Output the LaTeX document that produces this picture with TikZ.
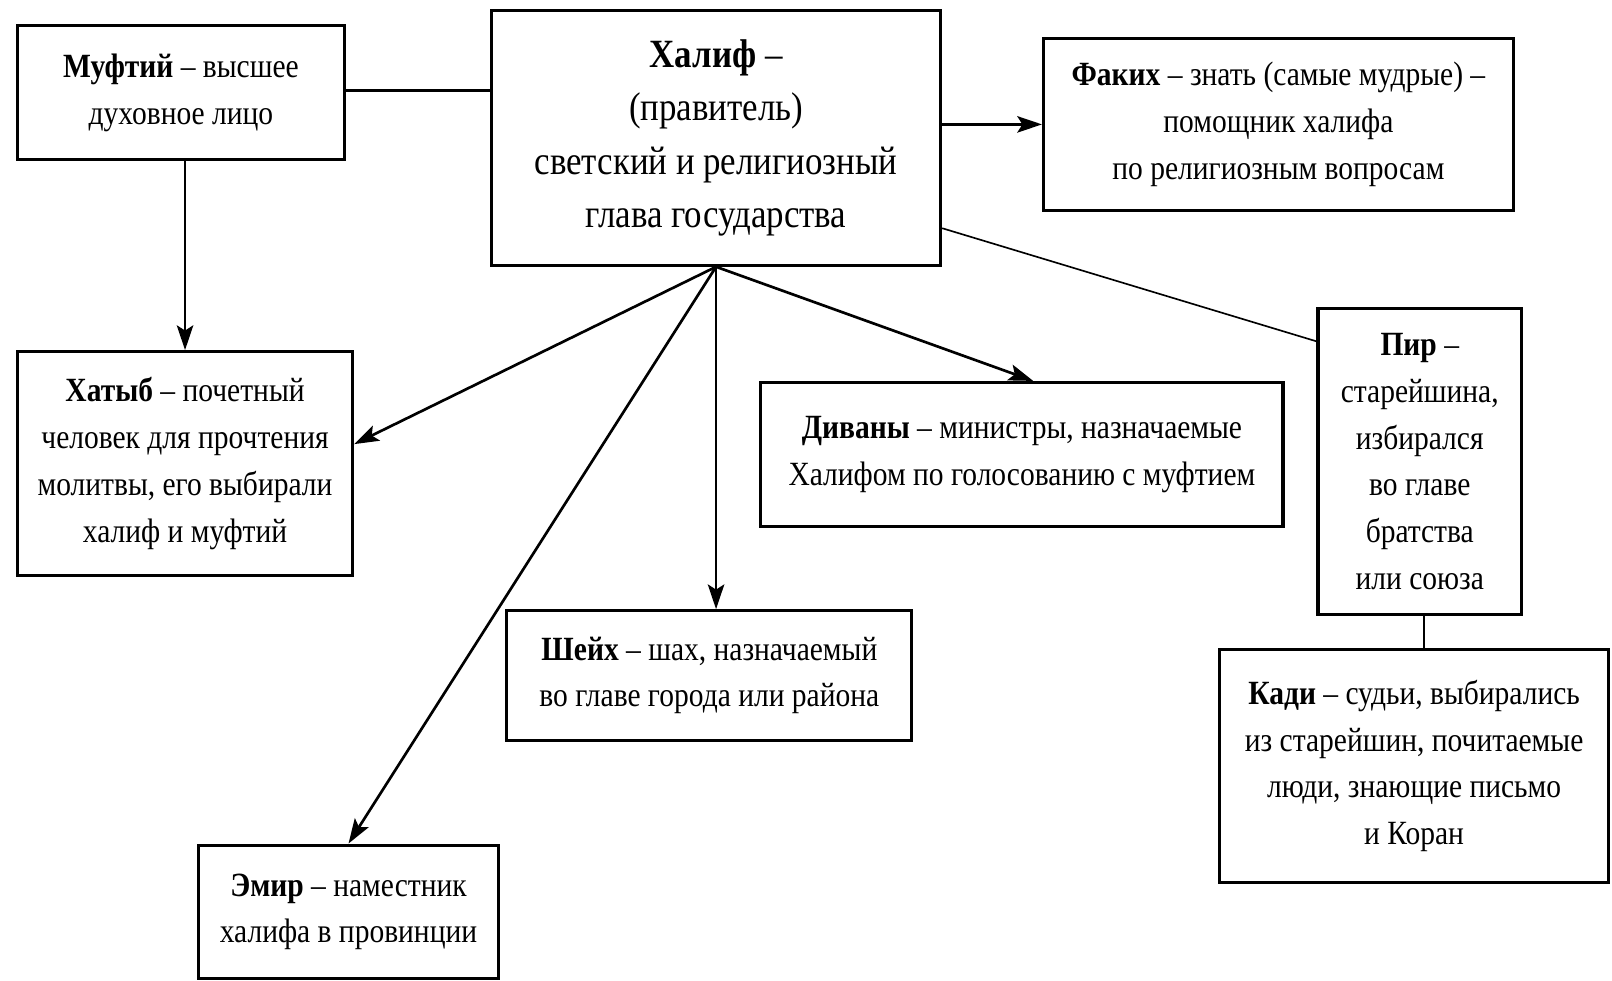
\documentclass[tikz,border=0pt]{standalone}
\usepackage{fontspec}
\setmainfont{Liberation Serif}[FakeStretch=0.87]
\usetikzlibrary{arrows.meta}
\tikzset{
  box/.style={draw=black, line width=3pt, align=center, inner sep=0pt,
    font=\fontsize{33}{45.5}\selectfont},
  arr/.style={line width=2.6pt, -{Stealth[length=24pt,width=16pt,inset=5pt]}},
  ln/.style={line width=2.6pt},
  thin/.style={line width=1.6pt}
}
\begin{document}
\begin{tikzpicture}[x=1pt,y=-1pt]
\useasboundingbox (0,0) rectangle (1568,954);
\node[box, minimum width=318pt, minimum height=130pt] (muf) at (176,90)
  {\textbf{Муфтий} – высшее\\ духовное лицо};
\node[box, minimum width=437pt, minimum height=248pt,
  font=\fontsize{39}{52}\selectfont] (hal) at (696.5,134)
  {\textbf{Халиф} –\\ (правитель)\\ светский и религиозный\\ глава государства};
\node[box, minimum width=457pt, minimum height=168pt] (fak) at (1243.5,121)
  {\textbf{Факих} – знать (самые мудрые) –\\ помощник халифа\\ по религиозным вопросам};
\node[box, minimum width=326pt, minimum height=218pt] (hat) at (180,451)
  {\textbf{Хатыб} – почетный\\ человек для прочтения\\ молитвы, его выбирали\\ халиф и муфтий};
\node[box, minimum width=508pt, minimum height=140pt] (div) at (994,442)
  {\textbf{Диваны} – министры, назначаемые\\ Халифом по голосованию с муфтием};
\node[box, minimum width=198pt, minimum height=298pt] (pir) at (1381,449)
  {\textbf{Пир} –\\ старейшина,\\ избирался\\ во главе\\ братства\\ или союза};
\node[box, minimum width=394pt, minimum height=126pt] (shk) at (690,657)
  {\textbf{Шейх} – шах, назначаемый\\ во главе города или района};
\node[box, minimum width=379pt, minimum height=226pt] (kad) at (1375.5,745)
  {\textbf{Кади} – судьи, выбирались\\ из старейшин, почитаемые\\ люди, знающие письмо\\ и Коран};
\node[box, minimum width=292pt, minimum height=130pt] (emi) at (339,887)
  {\textbf{Эмир} – наместник\\ халифа в провинции};

\draw[ln] ([yshift=2pt]muf.east) -- ([yshift=2pt]muf.east -| hal.west);
\draw[arr] ([xshift=4pt]muf.south) -- ([xshift=4pt]muf.south |- hat.north);
\draw[arr] (hal.east |- fak.west) -- (fak.west);
\draw[arr] (hal.south) -- ([yshift=19pt]hat.east);
\draw[arr] (hal.south) -- (emi.north);
\draw[arr] (hal.south) -- (hal.south |- shk.north);
\draw[arr] (hal.south) -- ([xshift=11pt]div.north);
\draw[thin] ([yshift=-88pt]hal.east) -- ([yshift=117pt]pir.west);
\draw[ln] ([xshift=4pt]pir.south) -- ([xshift=4pt]pir.south |- kad.north);
\end{tikzpicture}
\end{document}
